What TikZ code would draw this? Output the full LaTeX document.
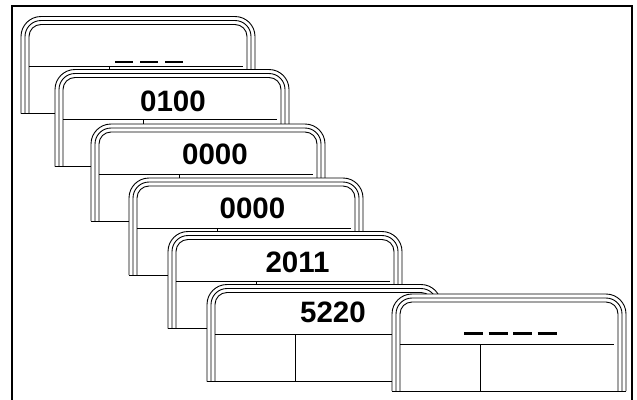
\documentclass[tikz,border=0pt]{standalone}
\usepackage{fontspec}
\setmainfont{Liberation Sans}
\begin{document}
\begin{tikzpicture}[x=1pt,y=-1pt,line width=0.9pt,
  lbl/.style={font=\fontsize{29.5}{31}\selectfont\bfseries,inner sep=0pt,anchor=center},
  dashmark/.style={line width=2.6pt},
  card/.pic={
    \fill[white] (0,97) -- (0,20) -- (20,0) -- (214,0) -- (234,20) -- (234,97) -- cycle;
    \fill[white, rounded corners=20pt] (0,97) -- (0,0) -- (234,0) -- (234,97);
    \draw[rounded corners=20pt] (0,97) -- (0,0) -- (234,0) -- (234,97);
    \draw[rounded corners=16pt] (4,97) -- (4,4) -- (230,4) -- (230,97);
    \draw[rounded corners=12pt] (8,97) -- (8,8) -- (226,8) -- (226,97);
    \draw (0,97) -- (234,97);
    \draw (8,50) -- (222,50);
    \draw (88,50) -- (88,97);
  }]
\useasboundingbox (0,0) rectangle (637,399);
\clip (0,0) rectangle (637,399);
\draw[line width=2.5pt] (12,410) -- (12,6) -- (632,6) -- (632,410);
% cards
\pic at (21,16.5) {card};
\draw[dashmark, dash pattern=on 18pt off 7pt] (115,62) -- (183,62);
\pic at (55,69.5) {card};
\node[lbl] (t2) at (173,101.5) {0100};
\pic at (91,124) {card};
\node[lbl] (t3) at (215,154) {0000};
\pic at (129,178) {card};
\node[lbl] (t4) at (252.5,208) {0000};
\pic at (168,231.5) {card};
\node[lbl] (t5) at (297.5,262) {2011};
\pic at (207,284.5) {card};
\node[lbl] (t6) at (333,312.5) {5220};
\pic at (392,294) {card};
\draw[dashmark, dash pattern=on 19pt off 5.5pt] (464,333.5) -- (557,333.5);
\end{tikzpicture}
\end{document}
